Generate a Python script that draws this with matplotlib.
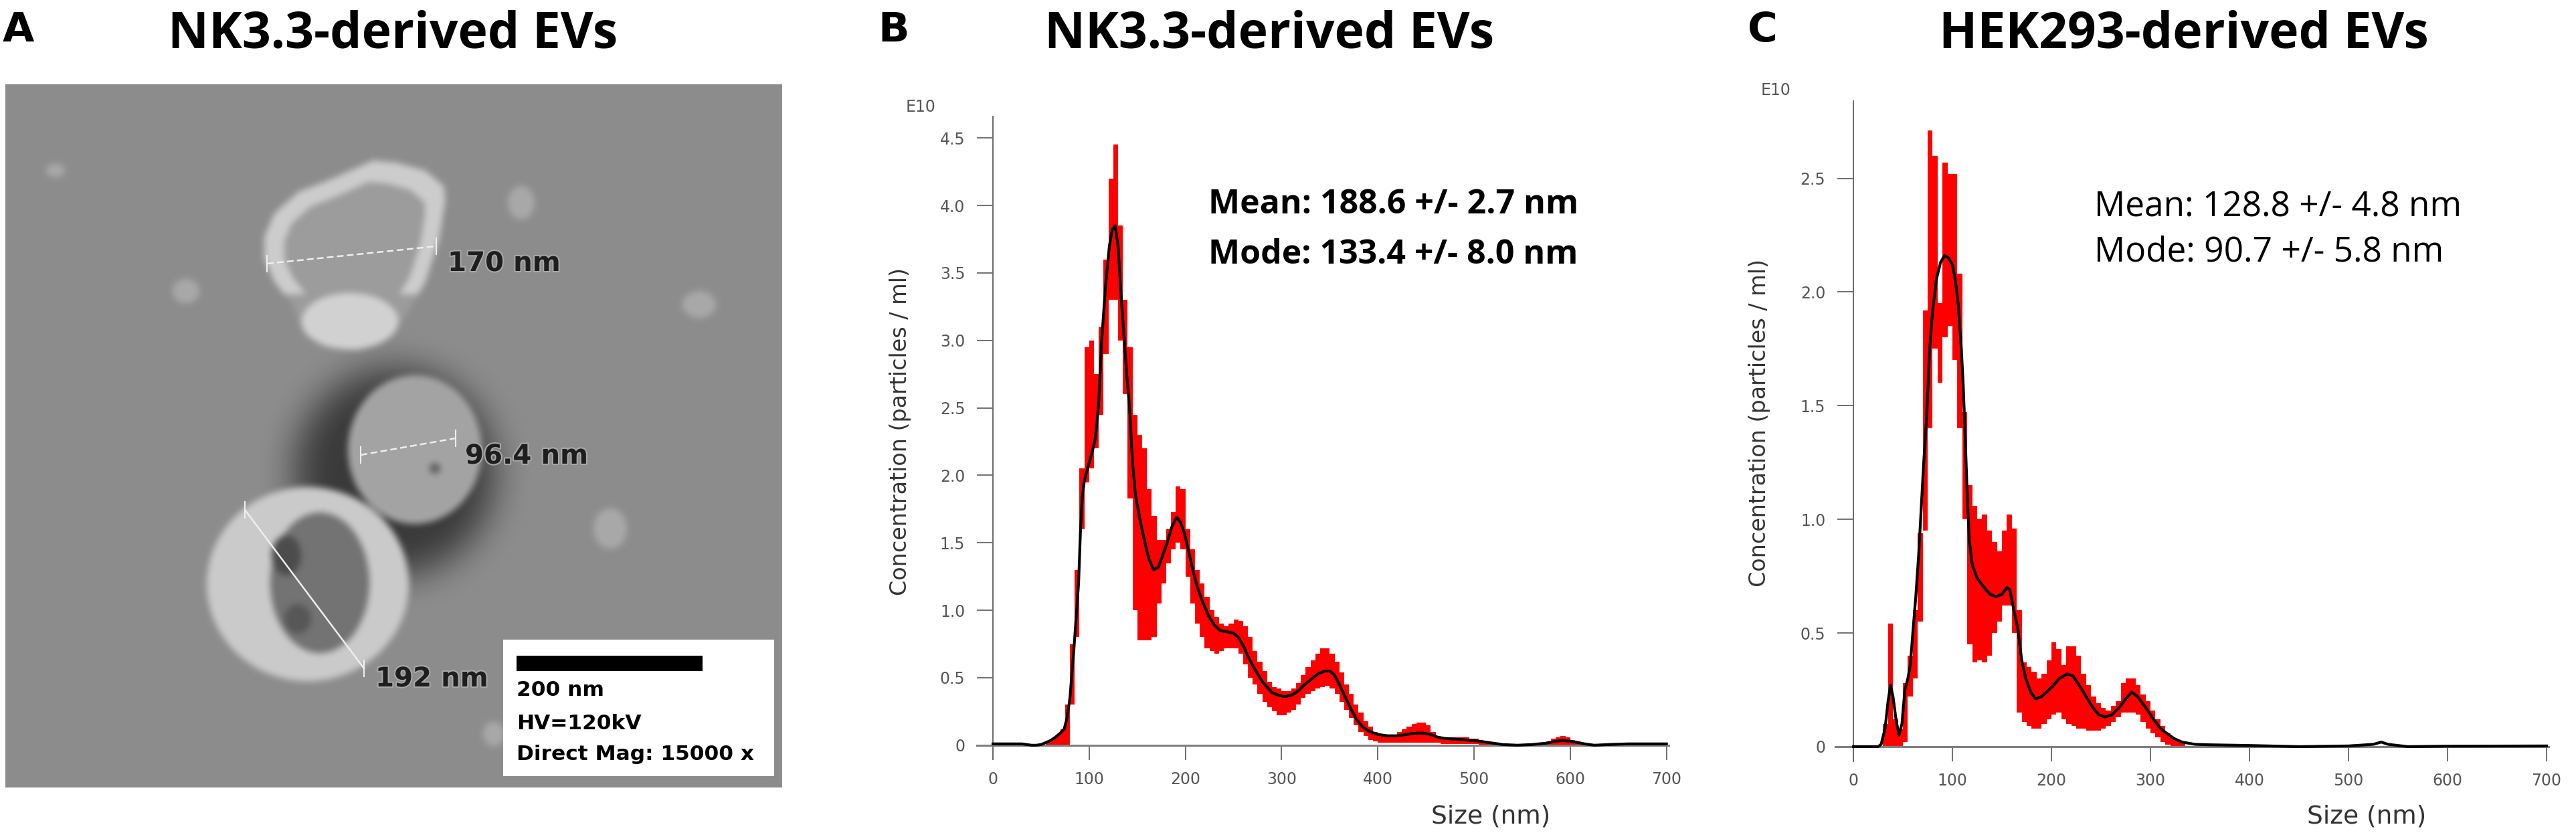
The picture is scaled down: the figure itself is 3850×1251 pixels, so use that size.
import numpy as np
import matplotlib
matplotlib.use("Agg")
import matplotlib.pyplot as plt
from matplotlib.path import Path
from matplotlib.patches import Rectangle
import matplotlib.patheffects as pe

# ---------------- data ----------------
# panel B, NK3.3-derived EVs: mean curve (size nm, conc. x1e10 /ml)
b_size = [0, 10, 20, 30, 35, 40, 45, 50, 55, 60, 65, 70, 74, 77, 80, 84, 87, 89, 91, 93,
          95, 99, 103, 106, 108, 110, 113, 117, 121, 124, 127, 130, 133, 136, 139, 142,
          145, 148, 152, 157, 162, 167, 172, 176, 181, 186, 191, 195, 199, 203, 207, 212,
          218, 224, 230, 236, 244, 250, 255, 260, 265, 270, 275, 280, 285, 290, 297, 303,
          310, 317, 324, 331, 338, 345, 350, 355, 360, 366, 372, 378, 385, 392, 400, 410,
          420, 430, 440, 447, 455, 462, 470, 480, 490, 500, 510, 520, 530, 545, 560, 575,
          585, 592, 600, 608, 615, 625, 640, 660, 700]
b_conc = [0.01, 0.01, 0.01, 0.01, 0.005, 0.0, 0.0, 0.005, 0.02, 0.035, 0.06, 0.09, 0.12,
          0.2, 0.35, 0.7, 1.0, 1.2, 1.6, 1.85, 1.96, 2.07, 2.17, 2.26, 2.38, 2.55, 3.0, 3.4,
          3.7, 3.82, 3.85, 3.7, 3.35, 3.05, 2.75, 2.5, 2.1, 1.86, 1.7, 1.53, 1.38, 1.3, 1.32,
          1.4, 1.5, 1.62, 1.69, 1.65, 1.57, 1.45, 1.32, 1.18, 1.06, 0.96, 0.89, 0.85, 0.84,
          0.83, 0.8, 0.74, 0.66, 0.59, 0.53, 0.47, 0.43, 0.39, 0.37, 0.36, 0.37, 0.4, 0.45,
          0.49, 0.53, 0.55, 0.55, 0.52, 0.45, 0.36, 0.27, 0.19, 0.13, 0.1, 0.08, 0.07, 0.07,
          0.08, 0.09, 0.09, 0.08, 0.06, 0.05, 0.045, 0.04, 0.035, 0.025, 0.015, 0.005, 0.0,
          0.005, 0.015, 0.03, 0.035, 0.03, 0.02, 0.01, 0.0, 0.005, 0.01, 0.01]
# panel B error band, 5 nm bins starting at 55 nm
b_bins = list(range(55, 615, 5))
b_lo = [0, 0, 0, 0, 0, 0.3, 0.8, 1.6, 1.95, 2.05,
        2.2, 2.45, 2.9, 3.3, 3.3, 3.0, 2.6, 1.83, 1.0, 0.78,
        0.78, 0.78, 0.8, 1.05, 1.2, 1.35, 1.45, 1.5, 1.45, 1.25,
        1.05, 0.9, 0.8, 0.72, 0.7, 0.68, 0.7, 0.72, 0.72, 0.72,
        0.68, 0.6, 0.5, 0.45, 0.38, 0.32, 0.28, 0.25, 0.22, 0.22,
        0.24, 0.26, 0.3, 0.35, 0.38, 0.4, 0.42, 0.43, 0.44, 0.42,
        0.38, 0.32, 0.26, 0.2, 0.15, 0.1, 0.07, 0.04, 0.03, 0.02,
        0.02, 0.02, 0.02, 0.02, 0.02, 0.02, 0.02, 0.02, 0.02, 0.02,
        0.02, 0.02, 0.01, 0.01, 0.01, 0.01, 0.01, 0.01, 0.01, 0.01,
        0, 0, 0, 0, 0, 0, 0, 0, 0, 0,
        0, 0, 0, 0, 0, 0, 0, 0, 0, 0,
        0, 0]
b_hi = [0.03, 0.05, 0.08, 0.12, 0.3, 0.75, 1.3, 2.05, 2.95, 3.0,
        2.75, 3.1, 3.6, 4.2, 4.45, 3.85, 3.3, 2.95, 2.45, 2.3,
        2.2, 1.9, 1.7, 1.52, 1.52, 1.6, 1.73, 1.92, 1.9, 1.6,
        1.45, 1.3, 1.2, 1.1, 1.0, 0.95, 0.9, 0.88, 0.9, 0.93,
        0.92, 0.88, 0.8, 0.7, 0.62, 0.55, 0.47, 0.43, 0.42, 0.4,
        0.4, 0.42, 0.46, 0.52, 0.58, 0.63, 0.68, 0.72, 0.72, 0.68,
        0.62, 0.54, 0.45, 0.38, 0.3, 0.24, 0.18, 0.14, 0.1, 0.08,
        0.07, 0.07, 0.08, 0.1, 0.12, 0.14, 0.16, 0.17, 0.17, 0.15,
        0.1, 0.07, 0.06, 0.06, 0.06, 0.06, 0.06, 0.06, 0.05, 0.05,
        0.04, 0.03, 0.02, 0.015, 0.01, 0.01, 0.01, 0.01, 0.01, 0.01,
        0.01, 0.01, 0.01, 0.02, 0.03, 0.05, 0.06, 0.07, 0.06, 0.04,
        0.03, 0.02]

# panel C, HEK293-derived EVs
c_size = [0, 25, 28, 32, 35, 37.5, 40, 43, 46, 49, 52, 55, 57.5, 60, 63, 66, 68.5, 71, 74,
          77, 80, 84, 88, 92, 96, 100, 103, 106, 109, 111, 113, 115, 117, 120, 125, 132,
          138, 144, 150, 155, 158, 162, 166, 170, 174, 179, 184, 190, 195, 200, 208, 216,
          222, 228, 235, 242, 248, 254, 261, 268, 275, 281, 287, 292, 297, 303, 310, 316,
          324, 332, 345, 360, 400, 450, 500, 525, 533, 540, 560, 600, 700]
c_conc = [0.0, 0.0, 0.01, 0.08, 0.2, 0.27, 0.22, 0.12, 0.05, 0.1, 0.25, 0.3, 0.36, 0.5,
          0.66, 0.85, 1.05, 1.25, 1.45, 1.75, 1.92, 2.06, 2.13, 2.16, 2.15, 2.12, 2.05,
          1.94, 1.75, 1.58, 1.35, 1.1, 0.91, 0.8, 0.74, 0.7, 0.67, 0.66, 0.67, 0.7, 0.69,
          0.6, 0.52, 0.38, 0.3, 0.24, 0.21, 0.22, 0.24, 0.26, 0.3, 0.32, 0.31, 0.27, 0.22,
          0.17, 0.14, 0.13, 0.14, 0.17, 0.21, 0.24, 0.22, 0.19, 0.16, 0.12, 0.08, 0.06,
          0.035, 0.02, 0.01, 0.008, 0.005, 0.0, 0.003, 0.01, 0.02, 0.01, 0.0, 0.002, 0.003]
c_bins = list(range(30, 335, 5))
c_lo = [0, 0, 0, 0, 0.02, 0.22, 0.3, 0.55, 0.95, 1.4,
        1.75, 1.6, 1.8, 1.85, 1.7, 1.4, 1.0, 0.45, 0.37, 0.38,
        0.37, 0.4, 0.5, 0.55, 0.62, 0.62, 0.5, 0.15, 0.11, 0.09,
        0.08, 0.08, 0.1, 0.12, 0.14, 0.15, 0.12, 0.1, 0.09, 0.08,
        0.08, 0.07, 0.07, 0.07, 0.08, 0.09, 0.11, 0.13, 0.15, 0.15,
        0.15, 0.14, 0.11, 0.08, 0.06, 0.04, 0.02, 0.01, 0.0, 0.0,
        0.0]
c_hi = [0.1, 0.54, 0.12, 0.08, 0.28, 0.4, 0.6, 0.94, 1.92, 2.71,
        2.6, 1.95, 2.57, 2.52, 2.52, 2.08, 1.47, 1.15, 1.06, 1.0,
        1.02, 0.95, 0.9, 0.86, 0.95, 1.02, 0.96, 0.6, 0.37, 0.35,
        0.33, 0.3, 0.32, 0.38, 0.46, 0.43, 0.36, 0.44, 0.44, 0.4,
        0.32, 0.27, 0.22, 0.19, 0.17, 0.16, 0.18, 0.2, 0.28, 0.3,
        0.3, 0.27, 0.23, 0.2, 0.16, 0.12, 0.09, 0.06, 0.04, 0.03,
        0.02]

b_yticks = [0, 0.5, 1.0, 1.5, 2.0, 2.5, 3.0, 3.5, 4.0, 4.5]
c_yticks = [0, 0.5, 1.0, 1.5, 2.0, 2.5]
x_ticks = [0, 100, 200, 300, 400, 500, 600, 700]

# panel A, micrograph sketch (image pixel coords)
top_ves = [(395, 354), (410, 319), (446, 287), (497, 267), (557, 240), (592, 243),
           (636, 255), (664, 279), (665, 303), (656, 358), (636, 421), (608, 469),
           (584, 504), (537, 524), (486, 520), (454, 500), (438, 457), (410, 421),
           (395, 386)]
blobs = [(779, 303, 20, 25), (1045, 455, 25, 20), (278, 435, 20, 18),
         (912, 790, 25, 30), (738, 1097, 16, 18), (83, 255, 14, 10)]
measures = [("170 nm", (399, 394), (652, 368), (669, 394)),
            ("96.4 nm", (539, 680), (681, 655), (695, 682)),
            ("192 nm", (366, 762), (544, 999), (561, 1015))]
info_lines = ["200 nm", "HV=120kV", "Direct Mag: 15000 x"]

# ---------------- figure ----------------
W, H = 3850, 1251
fig = plt.figure(figsize=(W / 100, H / 100), dpi=100)
fig.patch.set_facecolor("white")


def fx(x):
    return x / W


def fy(y):
    return 1 - y / H


def box_blur(a, r, axis):
    pad = [(0, 0), (0, 0)]
    pad[axis] = (r + 1, r)
    p = np.pad(a, pad, mode="edge")
    c = np.cumsum(p, axis=axis)
    n = a.shape[axis]
    hi = np.take(c, np.arange(2 * r + 1, 2 * r + 1 + n), axis=axis)
    lo = np.take(c, np.arange(0, n), axis=axis)
    return (hi - lo) / (2 * r + 1)


def blur(a, r, passes=2):
    for _ in range(passes):
        a = box_blur(box_blur(a, r, 0), r, 1)
    return a


# ---- panel A ----
x0, x1, y0, y1 = 8, 1169, 126, 1177
axA = fig.add_axes([fx(x0), fy(y1), (x1 - x0) / W, (y1 - y0) / H])
X, Y = np.meshgrid(np.arange(x0, x1) + 0.5, np.arange(y0, y1) + 0.5)


def ell(cx, cy, rx, ry):
    return ((X - cx) / rx) ** 2 + ((Y - cy) / ry) ** 2 <= 1


img = np.full(X.shape, 0.55)
img -= 0.32 * blur(ell(590, 705, 150, 155).astype(float), 30)
pts = np.column_stack([X.ravel(), Y.ravel()])
top = Path(top_ves).contains_points(pts).reshape(X.shape)
cx, cy = 530, 385
shrunk = [(cx + 0.78 * (px - cx), cy + 0.78 * (py - cy)) for px, py in top_ves]
inner_top = Path(shrunk).contains_points(pts).reshape(X.shape)
img[top] = 0.61
img[top & ~inner_top & (Y < 440)] = 0.80
img[ell(523, 480, 72, 42)] = 0.82
img[ell(620, 672, 100, 111)] = 0.64
img[ell(460, 873, 151, 145)] = 0.79
img[ell(478, 871, 74, 105)] = 0.45
img[ell(428, 830, 22, 30)] = 0.30
img[ell(445, 925, 20, 22)] = 0.34
img[ell(650, 700, 8, 8)] = 0.38
for bx, by, rx, ry in blobs:
    img[ell(bx, by, rx, ry)] = 0.66
img = blur(img, 5)
axA.imshow(img, cmap="gray", vmin=0, vmax=1, extent=(x0, x1, y1, y0),
           interpolation="bilinear", aspect="auto")
axA.set_xlim(x0, x1)
axA.set_ylim(y1, y0)
axA.axis("off")

for label, p0, p1, tp in measures:
    axA.plot([p0[0], p1[0]], [p0[1], p1[1]], color="#eeeeee", lw=1.8,
             dashes=(4, 2) if label != "192 nm" else (None, None))
    for px, py in (p0, p1):
        axA.plot([px, px], [py - 12, py + 12], color="#eeeeee", lw=1.5)
    axA.text(tp[0], tp[1], label, fontsize=29, fontweight="bold", color="#1e1e1e",
             va="center", ha="left", family="DejaVu Sans",
             path_effects=[pe.withStroke(linewidth=3, foreground="#a8a8a8")])

axA.add_patch(Rectangle((752, 956), 405, 204, facecolor="white", edgecolor="none"))
axA.add_patch(Rectangle((772, 980), 278, 23, facecolor="black", edgecolor="none"))
for txt, ty in zip(info_lines, [1031, 1081, 1127]):
    axA.text(772, ty, txt, fontsize=22.5, fontweight="bold", va="center",
             ha="left", family="DejaVu Sans", color="black")


# ---- panels B and C ----
def nta_axes(rect, xlim, ylim, yticks, size, conc, bins, lo, hi):
    ax = fig.add_axes(rect)
    edges = list(bins) + [bins[-1] + 5]
    ax.fill_between(edges, list(lo) + [lo[-1]], list(hi) + [hi[-1]], step="post",
                    color="#ff0000", lw=0, zorder=2)
    ax.plot(size, conc, color="black", lw=3, zorder=3, solid_joinstyle="round")
    ax.set_xlim(*xlim)
    ax.set_ylim(*ylim)
    for s in ("top", "right"):
        ax.spines[s].set_visible(False)
    ax.spines["left"].set_position(("data", 0))
    ax.spines["bottom"].set_position(("data", 0))
    ax.spines["left"].set_color("#6a6a6a")
    ax.spines["left"].set_linewidth(1.4)
    ax.spines["bottom"].set_color("#808080")
    ax.spines["bottom"].set_linewidth(2.2)
    ax.spines["bottom"].set_zorder(2.5)
    ax.set_xticks(x_ticks)
    ax.set_yticks(yticks)
    ax.set_yticklabels(["0" if v == 0 else f"{v:.1f}" for v in yticks])
    ax.tick_params(axis="x", direction="out", length=16, width=1.4, color="#707070",
                   pad=12, labelsize=17, labelcolor="#555555")
    ax.tick_params(axis="y", direction="out", length=17, width=1.4, color="#707070",
                   pad=13, labelsize=17, labelcolor="#555555")
    ax.patch.set_alpha(0)
    return ax


axB = nta_axes([fx(1459.6), fy(1135), (2493.5 - 1459.6) / W, (1135 - 174) / H],
               (-17, 702), (-0.105, 4.66), b_yticks, b_size, b_conc, b_bins, b_lo, b_hi)
axC = nta_axes([fx(2743.4), fy(1138), (3809 - 2743.4) / W, (1138 - 151) / H],
               (-18, 702), (-0.065, 2.84), c_yticks, c_size, c_conc, c_bins, c_lo, c_hi)

# axis labels and exponent markers
for xl, ex, ey in [(2228, 1354, 160), (3537, 2632, 135)]:
    fig.text(fx(xl), fy(1220), "Size (nm)", fontsize=27, color="#333333",
             ha="center", va="center", family="DejaVu Sans")
    fig.text(fx(ex), fy(ey), "E10", fontsize=17, color="#555555",
             ha="left", va="center", family="DejaVu Sans")
fig.text(fx(1346), fy(645), "Concentration (particles / ml)", fontsize=24,
         color="#333333", rotation=90, ha="center", va="center", family="DejaVu Sans")
fig.text(fx(2630), fy(632), "Concentration (particles / ml)", fontsize=24,
         color="#333333", rotation=90, ha="center", va="center", family="DejaVu Sans")

# stats
fig.text(fx(1806), fy(319), "Mean: 188.6 +/- 2.7 nm", fontsize=36, fontweight="bold",
         family="Open Sans", ha="left", va="baseline")
fig.text(fx(1806), fy(394), "Mode: 133.4 +/- 8.0 nm", fontsize=36, fontweight="bold",
         family="Open Sans", ha="left", va="baseline")
fig.text(fx(3130), fy(323), "Mean: 128.8 +/- 4.8 nm", fontsize=37,
         family="Open Sans", ha="left", va="baseline")
fig.text(fx(3130), fy(390), "Mode: 90.7 +/- 5.8 nm", fontsize=37,
         family="Open Sans", ha="left", va="baseline")

# titles and panel letters
for tx, title in [(587, "NK3.3-derived EVs"), (1897, "NK3.3-derived EVs"),
                  (3264, "HEK293-derived EVs")]:
    fig.text(fx(tx), fy(71), title, fontsize=54, fontweight="bold",
             family="Open Sans", ha="center", va="baseline")
for lx, letter in [(4, "A"), (1312, "B"), (2612, "C")]:
    fig.text(fx(lx), fy(62), letter, fontsize=44, fontweight="bold",
             family="DejaVu Sans", ha="left", va="baseline")

fig.savefig("out.png", dpi=100)
